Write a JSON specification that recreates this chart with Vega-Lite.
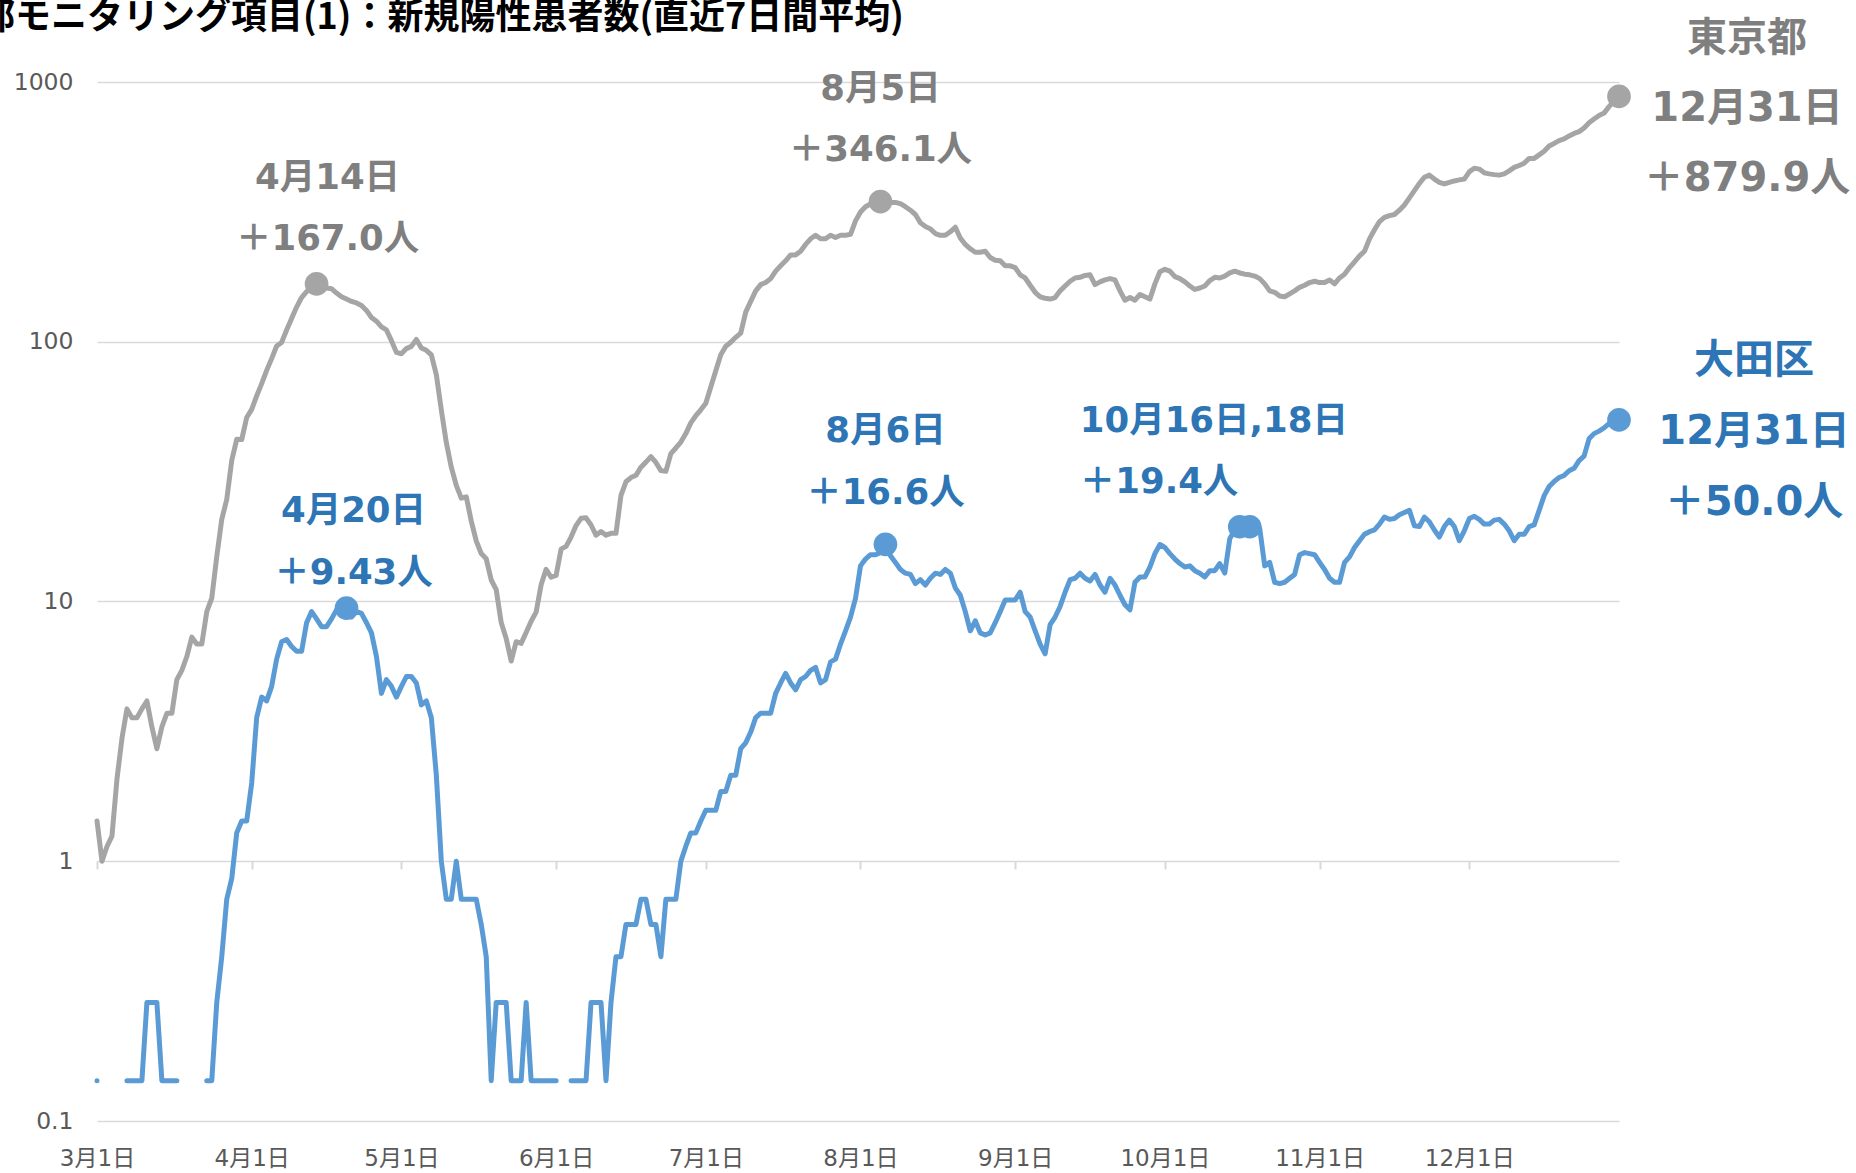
{
"$schema":"https://vega.github.io/schema/vega-lite/v6.json",
"width":1522,"height":1039,
"autosize":{"type":"none"},
"padding":{"left":97,"top":82,"right":237,"bottom":52},
"background":"#ffffff",
"config":{"view":{"stroke":null}},
"title":{"text":"東京都モニタリング項目(1)：新規陽性患者数(直近7日間平均)","anchor":"start","frame":"group","orient":"top","font":"Noto Sans CJK JP","fontSize":36,"fontWeight":"bold","color":"#000000","baseline":"alphabetic","offset":-46,"dx":-190},
"datasets":{
"daily":[
{"date":"2020-03-01","tokyo":1.43,"ota":0.143},
{"date":"2020-03-02","tokyo":1.0,"ota":null},
{"date":"2020-03-03","tokyo":1.14,"ota":null},
{"date":"2020-03-04","tokyo":1.25,"ota":null},
{"date":"2020-03-05","tokyo":2.07,"ota":null},
{"date":"2020-03-06","tokyo":2.97,"ota":null},
{"date":"2020-03-07","tokyo":3.86,"ota":0.143},
{"date":"2020-03-08","tokyo":3.57,"ota":0.143},
{"date":"2020-03-09","tokyo":3.57,"ota":0.143},
{"date":"2020-03-10","tokyo":3.86,"ota":0.143},
{"date":"2020-03-11","tokyo":4.14,"ota":0.286},
{"date":"2020-03-12","tokyo":3.29,"ota":0.286},
{"date":"2020-03-13","tokyo":2.71,"ota":0.286},
{"date":"2020-03-14","tokyo":3.29,"ota":0.143},
{"date":"2020-03-15","tokyo":3.71,"ota":0.143},
{"date":"2020-03-16","tokyo":3.71,"ota":0.143},
{"date":"2020-03-17","tokyo":5.0,"ota":0.143},
{"date":"2020-03-18","tokyo":5.43,"ota":null},
{"date":"2020-03-19","tokyo":6.14,"ota":null},
{"date":"2020-03-20","tokyo":7.29,"ota":null},
{"date":"2020-03-21","tokyo":6.86,"ota":null},
{"date":"2020-03-22","tokyo":6.86,"ota":null},
{"date":"2020-03-23","tokyo":9.14,"ota":0.143},
{"date":"2020-03-24","tokyo":10.3,"ota":0.143},
{"date":"2020-03-25","tokyo":14.9,"ota":0.286},
{"date":"2020-03-26","tokyo":20.7,"ota":0.429},
{"date":"2020-03-27","tokyo":24.7,"ota":0.714},
{"date":"2020-03-28","tokyo":34.9,"ota":0.857},
{"date":"2020-03-29","tokyo":42.1,"ota":1.286},
{"date":"2020-03-30","tokyo":42.0,"ota":1.429},
{"date":"2020-03-31","tokyo":51.1,"ota":1.429},
{"date":"2020-04-01","tokyo":54.9,"ota":2.0},
{"date":"2020-04-02","tokyo":61.9,"ota":3.571},
{"date":"2020-04-03","tokyo":69.0,"ota":4.286},
{"date":"2020-04-04","tokyo":77.6,"ota":4.143},
{"date":"2020-04-05","tokyo":86.1,"ota":4.714},
{"date":"2020-04-06","tokyo":96.3,"ota":6.0},
{"date":"2020-04-07","tokyo":99.4,"ota":7.0},
{"date":"2020-04-08","tokyo":111,"ota":7.143},
{"date":"2020-04-09","tokyo":123,"ota":6.714},
{"date":"2020-04-10","tokyo":136,"ota":6.429},
{"date":"2020-04-11","tokyo":148,"ota":6.429},
{"date":"2020-04-12","tokyo":156,"ota":8.286},
{"date":"2020-04-13","tokyo":162,"ota":9.143},
{"date":"2020-04-14","tokyo":167.0,"ota":8.571},
{"date":"2020-04-15","tokyo":161,"ota":8.0},
{"date":"2020-04-16","tokyo":161,"ota":8.0},
{"date":"2020-04-17","tokyo":160,"ota":8.571},
{"date":"2020-04-18","tokyo":154,"ota":9.286},
{"date":"2020-04-19","tokyo":149,"ota":9.286},
{"date":"2020-04-20","tokyo":146,"ota":9.429},
{"date":"2020-04-21","tokyo":143,"ota":8.714},
{"date":"2020-04-22","tokyo":141,"ota":9.143},
{"date":"2020-04-23","tokyo":138,"ota":9.0},
{"date":"2020-04-24","tokyo":132,"ota":8.286},
{"date":"2020-04-25","tokyo":124,"ota":7.571},
{"date":"2020-04-26","tokyo":120,"ota":6.143},
{"date":"2020-04-27","tokyo":114,"ota":4.429},
{"date":"2020-04-28","tokyo":111,"ota":5.0},
{"date":"2020-04-29","tokyo":101,"ota":4.714},
{"date":"2020-04-30","tokyo":91,"ota":4.286},
{"date":"2020-05-01","tokyo":89.9,"ota":4.714},
{"date":"2020-05-02","tokyo":94.1,"ota":5.143},
{"date":"2020-05-03","tokyo":96.0,"ota":5.143},
{"date":"2020-05-04","tokyo":102,"ota":4.857},
{"date":"2020-05-05","tokyo":94.6,"ota":4.0},
{"date":"2020-05-06","tokyo":92.7,"ota":4.143},
{"date":"2020-05-07","tokyo":89.0,"ota":3.571},
{"date":"2020-05-08","tokyo":74.7,"ota":2.143},
{"date":"2020-05-09","tokyo":54.6,"ota":1.0},
{"date":"2020-05-10","tokyo":40.9,"ota":0.714},
{"date":"2020-05-11","tokyo":32.9,"ota":0.714},
{"date":"2020-05-12","tokyo":28.0,"ota":1.0},
{"date":"2020-05-13","tokyo":25.0,"ota":0.714},
{"date":"2020-05-14","tokyo":25.3,"ota":0.714},
{"date":"2020-05-15","tokyo":20.4,"ota":0.714},
{"date":"2020-05-16","tokyo":17.1,"ota":0.714},
{"date":"2020-05-17","tokyo":15.3,"ota":0.571},
{"date":"2020-05-18","tokyo":14.6,"ota":0.429},
{"date":"2020-05-19","tokyo":12.1,"ota":0.143},
{"date":"2020-05-20","tokyo":11.1,"ota":0.286},
{"date":"2020-05-21","tokyo":8.3,"ota":0.286},
{"date":"2020-05-22","tokyo":7.2,"ota":0.286},
{"date":"2020-05-23","tokyo":5.9,"ota":0.143},
{"date":"2020-05-24","tokyo":7.0,"ota":0.143},
{"date":"2020-05-25","tokyo":6.9,"ota":0.143},
{"date":"2020-05-26","tokyo":7.6,"ota":0.286},
{"date":"2020-05-27","tokyo":8.4,"ota":0.143},
{"date":"2020-05-28","tokyo":9.1,"ota":0.143},
{"date":"2020-05-29","tokyo":11.6,"ota":0.143},
{"date":"2020-05-30","tokyo":13.3,"ota":0.143},
{"date":"2020-05-31","tokyo":12.4,"ota":0.143},
{"date":"2020-06-01","tokyo":12.6,"ota":0.143},
{"date":"2020-06-02","tokyo":15.9,"ota":null},
{"date":"2020-06-03","tokyo":16.3,"ota":null},
{"date":"2020-06-04","tokyo":17.7,"ota":0.143},
{"date":"2020-06-05","tokyo":19.6,"ota":0.143},
{"date":"2020-06-06","tokyo":20.9,"ota":0.143},
{"date":"2020-06-07","tokyo":21.0,"ota":0.143},
{"date":"2020-06-08","tokyo":19.7,"ota":0.286},
{"date":"2020-06-09","tokyo":18.0,"ota":0.286},
{"date":"2020-06-10","tokyo":18.6,"ota":0.286},
{"date":"2020-06-11","tokyo":18.0,"ota":0.143},
{"date":"2020-06-12","tokyo":18.3,"ota":0.286},
{"date":"2020-06-13","tokyo":18.3,"ota":0.429},
{"date":"2020-06-14","tokyo":25.6,"ota":0.429},
{"date":"2020-06-15","tokyo":28.9,"ota":0.571},
{"date":"2020-06-16","tokyo":30.0,"ota":0.571},
{"date":"2020-06-17","tokyo":30.6,"ota":0.571},
{"date":"2020-06-18","tokyo":32.9,"ota":0.714},
{"date":"2020-06-19","tokyo":34.4,"ota":0.714},
{"date":"2020-06-20","tokyo":36.1,"ota":0.571},
{"date":"2020-06-21","tokyo":34.3,"ota":0.571},
{"date":"2020-06-22","tokyo":31.9,"ota":0.429},
{"date":"2020-06-23","tokyo":31.7,"ota":0.714},
{"date":"2020-06-24","tokyo":37.1,"ota":0.714},
{"date":"2020-06-25","tokyo":39.0,"ota":0.714},
{"date":"2020-06-26","tokyo":41.1,"ota":1.0},
{"date":"2020-06-27","tokyo":44.3,"ota":1.143},
{"date":"2020-06-28","tokyo":48.7,"ota":1.286},
{"date":"2020-06-29","tokyo":51.9,"ota":1.286},
{"date":"2020-06-30","tokyo":54.7,"ota":1.429},
{"date":"2020-07-01","tokyo":58.0,"ota":1.571},
{"date":"2020-07-02","tokyo":66.9,"ota":1.571},
{"date":"2020-07-03","tokyo":77.3,"ota":1.571},
{"date":"2020-07-04","tokyo":89.1,"ota":1.857},
{"date":"2020-07-05","tokyo":96.1,"ota":1.857},
{"date":"2020-07-06","tokyo":99.6,"ota":2.143},
{"date":"2020-07-07","tokyo":104,"ota":2.143},
{"date":"2020-07-08","tokyo":108,"ota":2.714},
{"date":"2020-07-09","tokyo":130,"ota":2.857},
{"date":"2020-07-10","tokyo":143,"ota":3.143},
{"date":"2020-07-11","tokyo":157,"ota":3.571},
{"date":"2020-07-12","tokyo":166,"ota":3.714},
{"date":"2020-07-13","tokyo":169,"ota":3.714},
{"date":"2020-07-14","tokyo":175,"ota":3.714},
{"date":"2020-07-15","tokyo":187,"ota":4.429},
{"date":"2020-07-16","tokyo":196,"ota":4.857},
{"date":"2020-07-17","tokyo":205,"ota":5.286},
{"date":"2020-07-18","tokyo":216,"ota":4.857},
{"date":"2020-07-19","tokyo":216,"ota":4.571},
{"date":"2020-07-20","tokyo":223,"ota":5.0},
{"date":"2020-07-21","tokyo":237,"ota":5.143},
{"date":"2020-07-22","tokyo":249,"ota":5.429},
{"date":"2020-07-23","tokyo":257,"ota":5.571},
{"date":"2020-07-24","tokyo":249,"ota":4.857},
{"date":"2020-07-25","tokyo":249,"ota":5.0},
{"date":"2020-07-26","tokyo":257,"ota":5.857},
{"date":"2020-07-27","tokyo":252,"ota":6.0},
{"date":"2020-07-28","tokyo":257,"ota":6.857},
{"date":"2020-07-29","tokyo":257,"ota":7.714},
{"date":"2020-07-30","tokyo":259,"ota":8.714},
{"date":"2020-07-31","tokyo":292,"ota":10.286},
{"date":"2020-08-01","tokyo":316,"ota":13.714},
{"date":"2020-08-02","tokyo":331,"ota":14.571},
{"date":"2020-08-03","tokyo":339,"ota":15.143},
{"date":"2020-08-04","tokyo":338,"ota":15.143},
{"date":"2020-08-05","tokyo":346.1,"ota":15.429},
{"date":"2020-08-06","tokyo":342,"ota":16.571},
{"date":"2020-08-07","tokyo":344,"ota":15.0},
{"date":"2020-08-08","tokyo":344,"ota":14.143},
{"date":"2020-08-09","tokyo":340,"ota":13.286},
{"date":"2020-08-10","tokyo":331,"ota":12.857},
{"date":"2020-08-11","tokyo":321,"ota":12.714},
{"date":"2020-08-12","tokyo":309,"ota":11.714},
{"date":"2020-08-13","tokyo":287,"ota":12.143},
{"date":"2020-08-14","tokyo":278,"ota":11.571},
{"date":"2020-08-15","tokyo":272,"ota":12.286},
{"date":"2020-08-16","tokyo":261,"ota":12.857},
{"date":"2020-08-17","tokyo":257,"ota":12.714},
{"date":"2020-08-18","tokyo":257,"ota":13.286},
{"date":"2020-08-19","tokyo":265,"ota":12.857},
{"date":"2020-08-20","tokyo":276,"ota":11.286},
{"date":"2020-08-21","tokyo":251,"ota":10.571},
{"date":"2020-08-22","tokyo":237,"ota":9.143},
{"date":"2020-08-23","tokyo":228,"ota":7.714},
{"date":"2020-08-24","tokyo":221,"ota":8.429},
{"date":"2020-08-25","tokyo":221,"ota":7.571},
{"date":"2020-08-26","tokyo":223,"ota":7.429},
{"date":"2020-08-27","tokyo":211,"ota":7.571},
{"date":"2020-08-28","tokyo":206,"ota":8.286},
{"date":"2020-08-29","tokyo":205,"ota":9.143},
{"date":"2020-08-30","tokyo":196,"ota":10.143},
{"date":"2020-08-31","tokyo":196,"ota":10.143},
{"date":"2020-09-01","tokyo":193,"ota":10.143},
{"date":"2020-09-02","tokyo":181,"ota":10.857},
{"date":"2020-09-03","tokyo":176,"ota":9.143},
{"date":"2020-09-04","tokyo":165,"ota":8.714},
{"date":"2020-09-05","tokyo":155,"ota":7.714},
{"date":"2020-09-06","tokyo":149,"ota":6.857},
{"date":"2020-09-07","tokyo":147,"ota":6.286},
{"date":"2020-09-08","tokyo":146,"ota":8.143},
{"date":"2020-09-09","tokyo":148,"ota":8.714},
{"date":"2020-09-10","tokyo":157,"ota":9.571},
{"date":"2020-09-11","tokyo":164,"ota":10.857},
{"date":"2020-09-12","tokyo":171,"ota":12.143},
{"date":"2020-09-13","tokyo":176,"ota":12.286},
{"date":"2020-09-14","tokyo":177,"ota":12.857},
{"date":"2020-09-15","tokyo":180,"ota":12.286},
{"date":"2020-09-16","tokyo":181,"ota":12.0},
{"date":"2020-09-17","tokyo":166,"ota":12.714},
{"date":"2020-09-18","tokyo":170,"ota":11.571},
{"date":"2020-09-19","tokyo":173,"ota":10.857},
{"date":"2020-09-20","tokyo":175,"ota":12.286},
{"date":"2020-09-21","tokyo":173,"ota":11.571},
{"date":"2020-09-22","tokyo":157,"ota":10.571},
{"date":"2020-09-23","tokyo":144.5,"ota":9.714},
{"date":"2020-09-24","tokyo":148,"ota":9.286},
{"date":"2020-09-25","tokyo":144.5,"ota":11.857},
{"date":"2020-09-26","tokyo":152,"ota":12.429},
{"date":"2020-09-27","tokyo":149,"ota":12.429},
{"date":"2020-09-28","tokyo":146,"ota":13.571},
{"date":"2020-09-29","tokyo":167,"ota":15.286},
{"date":"2020-09-30","tokyo":186,"ota":16.571},
{"date":"2020-10-01","tokyo":190,"ota":16.143},
{"date":"2020-10-02","tokyo":187,"ota":15.286},
{"date":"2020-10-03","tokyo":178,"ota":14.571},
{"date":"2020-10-04","tokyo":175,"ota":14.0},
{"date":"2020-10-05","tokyo":170,"ota":13.571},
{"date":"2020-10-06","tokyo":164,"ota":13.714},
{"date":"2020-10-07","tokyo":159,"ota":13.143},
{"date":"2020-10-08","tokyo":161,"ota":12.857},
{"date":"2020-10-09","tokyo":164,"ota":12.429},
{"date":"2020-10-10","tokyo":172,"ota":13.143},
{"date":"2020-10-11","tokyo":177,"ota":13.143},
{"date":"2020-10-12","tokyo":176,"ota":14.0},
{"date":"2020-10-13","tokyo":179,"ota":12.857},
{"date":"2020-10-14","tokyo":184,"ota":17.429},
{"date":"2020-10-15","tokyo":187,"ota":18.857},
{"date":"2020-10-16","tokyo":184,"ota":19.429},
{"date":"2020-10-17","tokyo":182,"ota":19.286},
{"date":"2020-10-18","tokyo":181,"ota":19.429},
{"date":"2020-10-19","tokyo":179,"ota":19.286},
{"date":"2020-10-20","tokyo":175,"ota":19.143},
{"date":"2020-10-21","tokyo":167,"ota":13.714},
{"date":"2020-10-22","tokyo":157,"ota":14.143},
{"date":"2020-10-23","tokyo":155,"ota":11.857},
{"date":"2020-10-24","tokyo":150,"ota":11.714},
{"date":"2020-10-25","tokyo":149,"ota":11.857},
{"date":"2020-10-26","tokyo":153,"ota":12.286},
{"date":"2020-10-27","tokyo":157,"ota":12.714},
{"date":"2020-10-28","tokyo":162,"ota":15.143},
{"date":"2020-10-29","tokyo":165,"ota":15.429},
{"date":"2020-10-30","tokyo":169,"ota":15.286},
{"date":"2020-10-31","tokyo":171,"ota":15.143},
{"date":"2020-11-01","tokyo":169,"ota":14.143},
{"date":"2020-11-02","tokyo":169,"ota":13.286},
{"date":"2020-11-03","tokyo":173,"ota":12.286},
{"date":"2020-11-04","tokyo":167,"ota":11.857},
{"date":"2020-11-05","tokyo":176,"ota":11.857},
{"date":"2020-11-06","tokyo":182,"ota":14.143},
{"date":"2020-11-07","tokyo":193,"ota":14.857},
{"date":"2020-11-08","tokyo":203,"ota":16.143},
{"date":"2020-11-09","tokyo":214,"ota":17.143},
{"date":"2020-11-10","tokyo":223,"ota":18.143},
{"date":"2020-11-11","tokyo":249,"ota":18.571},
{"date":"2020-11-12","tokyo":270,"ota":18.857},
{"date":"2020-11-13","tokyo":290,"ota":19.857},
{"date":"2020-11-14","tokyo":301,"ota":21.143},
{"date":"2020-11-15","tokyo":306,"ota":20.714},
{"date":"2020-11-16","tokyo":309,"ota":20.857},
{"date":"2020-11-17","tokyo":321,"ota":21.571},
{"date":"2020-11-18","tokyo":336,"ota":22.0},
{"date":"2020-11-19","tokyo":358,"ota":22.429},
{"date":"2020-11-20","tokyo":382,"ota":19.571},
{"date":"2020-11-21","tokyo":407,"ota":19.429},
{"date":"2020-11-22","tokyo":430,"ota":21.143},
{"date":"2020-11-23","tokyo":438,"ota":20.286},
{"date":"2020-11-24","tokyo":423,"ota":18.857},
{"date":"2020-11-25","tokyo":411,"ota":17.714},
{"date":"2020-11-26","tokyo":405,"ota":19.429},
{"date":"2020-11-27","tokyo":411,"ota":20.571},
{"date":"2020-11-28","tokyo":416,"ota":19.429},
{"date":"2020-11-29","tokyo":420,"ota":17.143},
{"date":"2020-11-30","tokyo":423,"ota":18.714},
{"date":"2020-12-01","tokyo":451,"ota":20.857},
{"date":"2020-12-02","tokyo":466,"ota":21.286},
{"date":"2020-12-03","tokyo":462,"ota":20.714},
{"date":"2020-12-04","tokyo":447,"ota":19.857},
{"date":"2020-12-05","tokyo":443,"ota":19.857},
{"date":"2020-12-06","tokyo":440,"ota":20.571},
{"date":"2020-12-07","tokyo":438,"ota":20.714},
{"date":"2020-12-08","tokyo":443,"ota":19.857},
{"date":"2020-12-09","tokyo":455,"ota":18.714},
{"date":"2020-12-10","tokyo":469,"ota":17.143},
{"date":"2020-12-11","tokyo":477,"ota":18.143},
{"date":"2020-12-12","tokyo":487,"ota":18.143},
{"date":"2020-12-13","tokyo":508,"ota":19.429},
{"date":"2020-12-14","tokyo":508,"ota":19.714},
{"date":"2020-12-15","tokyo":524,"ota":22.429},
{"date":"2020-12-16","tokyo":541,"ota":25.571},
{"date":"2020-12-17","tokyo":567,"ota":27.714},
{"date":"2020-12-18","tokyo":580,"ota":29.0},
{"date":"2020-12-19","tokyo":595,"ota":30.0},
{"date":"2020-12-20","tokyo":604,"ota":30.571},
{"date":"2020-12-21","tokyo":620,"ota":31.857},
{"date":"2020-12-22","tokyo":634,"ota":32.571},
{"date":"2020-12-23","tokyo":644,"ota":34.857},
{"date":"2020-12-24","tokyo":665,"ota":36.286},
{"date":"2020-12-25","tokyo":697,"ota":42.286},
{"date":"2020-12-26","tokyo":720,"ota":44.286},
{"date":"2020-12-27","tokyo":743,"ota":45.286},
{"date":"2020-12-28","tokyo":759,"ota":46.571},
{"date":"2020-12-29","tokyo":804,"ota":48.429},
{"date":"2020-12-30","tokyo":843,"ota":49.429},
{"date":"2020-12-31","tokyo":879.9,"ota":50.0}
],
"points":[
{"date":"2020-04-14","series":"tokyo","value":167.0},
{"date":"2020-08-05","series":"tokyo","value":346.1},
{"date":"2020-12-31","series":"tokyo","value":879.9},
{"date":"2020-04-20","series":"ota","value":9.43},
{"date":"2020-08-06","series":"ota","value":16.6},
{"date":"2020-10-16","series":"ota","value":19.4},
{"date":"2020-10-18","series":"ota","value":19.4},
{"date":"2020-12-31","series":"ota","value":50.0}
]
},
"encoding":{
"x":{"field":"date","type":"temporal",
"scale":{"type":"utc","nice":false,"domain":[{"year":2020,"month":3,"date":1,"utc":true},{"year":2020,"month":12,"date":31,"utc":true}]},
"axis":{"title":null,"values":[{"year":2020,"month":3,"date":1,"utc":true},{"year":2020,"month":4,"date":1,"utc":true},{"year":2020,"month":5,"date":1,"utc":true},{"year":2020,"month":6,"date":1,"utc":true},{"year":2020,"month":7,"date":1,"utc":true},{"year":2020,"month":8,"date":1,"utc":true},{"year":2020,"month":9,"date":1,"utc":true},{"year":2020,"month":10,"date":1,"utc":true},{"year":2020,"month":11,"date":1,"utc":true},{"year":2020,"month":12,"date":1,"utc":true}],
"labelExpr":"utcFormat(datum.value, '%-m月%-d日')","offset":-260,"domain":false,"grid":false,"ticks":true,"tickSize":8,"tickColor":"#D9D9D9","tickWidth":2,"labelPadding":278,"labelFont":"DejaVu Sans, Noto Sans CJK JP","labelFontSize":23,"labelColor":"#595959","labelFlush":false,"labelOverlap":false,"labelBound":false}},
"y":{"field":"value","type":"quantitative",
"scale":{"type":"log","domain":[0.1,1000],"nice":false},
"axis":{"title":null,"values":[0.1,1,10,100,1000],"format":"~g","domain":false,"ticks":false,"grid":true,"gridColor":"#D9D9D9","gridWidth":1.5,"labelPadding":24,"labelFont":"DejaVu Sans","labelFontSize":23.5,"labelColor":"#595959"}}
},
"layer":[
{"data":{"name":"daily"},
"transform":[{"fold":["tokyo","ota"],"as":["series","value"]}],
"mark":{"type":"line","strokeWidth":5,"strokeJoin":"round","strokeCap":"round"},
"encoding":{"color":{"field":"series","type":"nominal","scale":{"domain":["tokyo","ota"],"range":["#A5A5A5","#5B9BD5"]},"legend":null}}},
{"data":{"name":"points"},
"mark":{"type":"circle","size":560,"opacity":1},
"encoding":{"color":{"field":"series","type":"nominal","scale":{"domain":["tokyo","ota"],"range":["#A5A5A5","#5B9BD5"]},"legend":null}}},
{"data":{"values":[{"date":"2020-04-14","value":167.0,"label":"4月14日\n＋167.0人"}]},
"mark":{"type":"text","align":"center","baseline":"middle","dx":11,"dy":-106,"font":"DejaVu Sans, Noto Sans CJK JP","fontSize":35.5,"fontWeight":"bold","color":"#7F7F7F","lineBreak":"\n","lineHeight":61.5},
"encoding":{"text":{"field":"label"}}},
{"data":{"values":[{"date":"2020-08-05","value":346.1,"label":"8月5日\n＋346.1人"}]},
"mark":{"type":"text","align":"center","baseline":"middle","dx":0,"dy":-113,"font":"DejaVu Sans, Noto Sans CJK JP","fontSize":35.5,"fontWeight":"bold","color":"#7F7F7F","lineBreak":"\n","lineHeight":61.5},
"encoding":{"text":{"field":"label"}}},
{"data":{"values":[{"date":"2020-04-20","value":9.43,"label":"4月20日\n＋9.43人"}]},
"mark":{"type":"text","align":"center","baseline":"middle","dx":7,"dy":-97,"font":"DejaVu Sans, Noto Sans CJK JP","fontSize":35.5,"fontWeight":"bold","color":"#2E75B6","lineBreak":"\n","lineHeight":61.5},
"encoding":{"text":{"field":"label"}}},
{"data":{"values":[{"date":"2020-08-06","value":16.6,"label":"8月6日\n＋16.6人"}]},
"mark":{"type":"text","align":"center","baseline":"middle","dx":0,"dy":-113,"font":"DejaVu Sans, Noto Sans CJK JP","fontSize":35.5,"fontWeight":"bold","color":"#2E75B6","lineBreak":"\n","lineHeight":61.5},
"encoding":{"text":{"field":"label"}}},
{"data":{"values":[{"date":"2020-10-16","value":19.4,"label":"10月16日,18日\n＋19.4人"}]},
"mark":{"type":"text","align":"left","baseline":"middle","dx":-160,"dy":-106,"font":"DejaVu Sans, Noto Sans CJK JP","fontSize":35.5,"fontWeight":"bold","color":"#2E75B6","lineBreak":"\n","lineHeight":61.5},
"encoding":{"text":{"field":"label"}}},
{"data":{"values":[{"date":"2020-12-31","value":879.9,"label":"東京都\n12月31日\n＋879.9人"}]},
"mark":{"type":"text","align":"center","baseline":"middle","dx":128,"dy":-57,"font":"DejaVu Sans, Noto Sans CJK JP","fontSize":40,"fontWeight":"bold","color":"#7F7F7F","lineBreak":"\n","lineHeight":70},
"encoding":{"text":{"field":"label"}}},
{"data":{"values":[{"date":"2020-12-31","value":50.0,"label":"大田区\n12月31日\n＋50.0人"}]},
"mark":{"type":"text","align":"center","baseline":"middle","dx":135,"dy":-59,"font":"DejaVu Sans, Noto Sans CJK JP","fontSize":40,"fontWeight":"bold","color":"#2E75B6","lineBreak":"\n","lineHeight":71},
"encoding":{"text":{"field":"label"}}}
]
}
